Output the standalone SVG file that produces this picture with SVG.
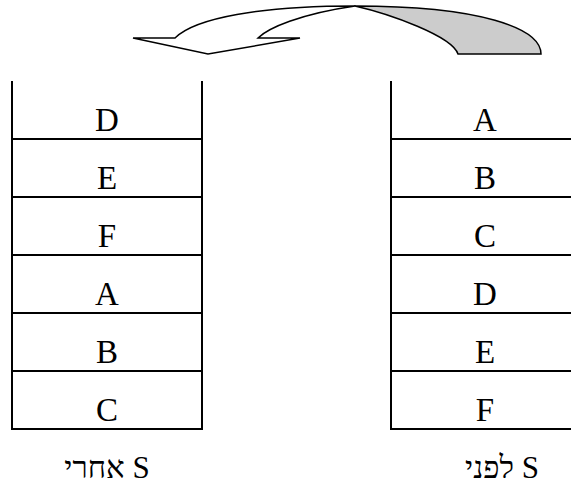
<svg xmlns="http://www.w3.org/2000/svg" width="571" height="486" viewBox="0 0 571 486">
<style>
.cell{fill:#fff;stroke:#000;stroke-width:2}
.side{fill:none;stroke:#000;stroke-width:2}
.t{font-family:"Liberation Serif","Times New Roman",serif;font-size:33px;text-anchor:middle;fill:#000}
.lbl{font-family:"Liberation Serif","Times New Roman",serif;font-size:31px;text-anchor:middle;fill:#000}
.front{fill:#fff;stroke:#000;stroke-width:1.5;stroke-linejoin:miter}
.back{fill:#cccccc;stroke:#000;stroke-width:1.5}
</style>
<rect width="571" height="486" fill="#fff"/>
<g id="connectors">
<path class="back" d="M458,54 L541,54 C541,28 480,6 355,6 C390,14 452,36 458,54 Z"/>
<path class="front" d="M133,38 L175,38 C195,18 260,6 355,6 C300,14 268,28 258,38 L300,38 L208,54 Z"/>
</g>
<g id="after-stack">
<g id="after-D"><path class="side" d="M12,81 V139 M202,81 V139"/><text class="t" x="107" y="130.5">D</text></g>
<g id="after-E"><rect class="cell" x="12" y="139" width="190" height="58"/><text class="t" x="107" y="188.5">E</text></g>
<g id="after-F"><rect class="cell" x="12" y="197" width="190" height="58"/><text class="t" x="107" y="246.5">F</text></g>
<g id="after-A"><rect class="cell" x="12" y="255" width="190" height="58"/><text class="t" x="107" y="304.5">A</text></g>
<g id="after-B"><rect class="cell" x="12" y="313" width="190" height="58"/><text class="t" x="107" y="362.5">B</text></g>
<g id="after-C"><rect class="cell" x="12" y="371" width="190" height="58"/><text class="t" x="107" y="420.5">C</text></g>
<text id="after-label" class="lbl" x="107" y="478">אחרי S</text>
</g>
<g id="before-stack">
<g id="before-A"><path class="side" d="M391,81 V139 M580,81 V139"/><text class="t" x="485" y="130.5">A</text></g>
<g id="before-B"><rect class="cell" x="391" y="139" width="189" height="58"/><text class="t" x="485" y="188.5">B</text></g>
<g id="before-C"><rect class="cell" x="391" y="197" width="189" height="58"/><text class="t" x="485" y="246.5">C</text></g>
<g id="before-D"><rect class="cell" x="391" y="255" width="189" height="58"/><text class="t" x="485" y="304.5">D</text></g>
<g id="before-E"><rect class="cell" x="391" y="313" width="189" height="58"/><text class="t" x="485" y="362.5">E</text></g>
<g id="before-F"><rect class="cell" x="391" y="371" width="189" height="58"/><text class="t" x="485" y="420.5">F</text></g>
<text id="before-label" class="lbl" x="502" y="478">לפני S</text>
</g>
</svg>
